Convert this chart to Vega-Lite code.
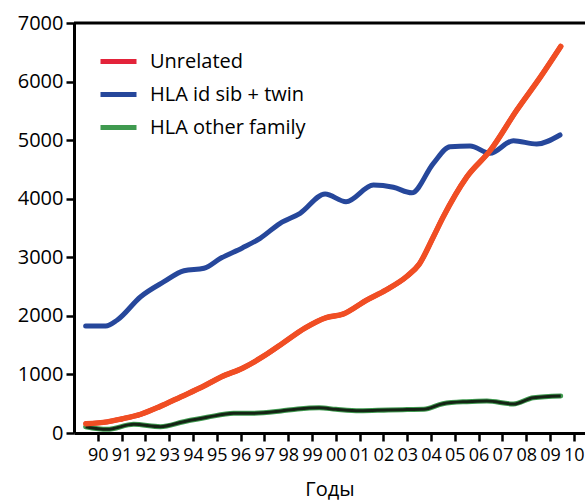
{
  "$schema": "https://vega.github.io/schema/vega-lite/v6.json",
  "width": 511,
  "height": 410,
  "autosize": {"type": "none"},
  "padding": {"left": 74, "top": 23, "right": 0, "bottom": 68},
  "config": {
    "view": {"stroke": null},
    "font": "Open Sans",
    "axis": {"domainColor": "black", "domainWidth": 3, "tickColor": "black", "tickWidth": 2.5, "tickSize": 8, "labelColor": "black", "titleColor": "black", "grid": false}
  },
  "data": {"values": [
    {"series": "Unrelated", "year": 1989.5, "value": 160},
    {"series": "Unrelated", "year": 1990.4, "value": 190},
    {"series": "Unrelated", "year": 1991.0, "value": 240},
    {"series": "Unrelated", "year": 1991.8, "value": 320},
    {"series": "Unrelated", "year": 1992.6, "value": 450},
    {"series": "Unrelated", "year": 1993.5, "value": 620},
    {"series": "Unrelated", "year": 1994.4, "value": 790},
    {"series": "Unrelated", "year": 1995.2, "value": 960},
    {"series": "Unrelated", "year": 1996.1, "value": 1110},
    {"series": "Unrelated", "year": 1997.0, "value": 1320},
    {"series": "Unrelated", "year": 1997.8, "value": 1540},
    {"series": "Unrelated", "year": 1998.7, "value": 1790},
    {"series": "Unrelated", "year": 1999.6, "value": 1970},
    {"series": "Unrelated", "year": 2000.3, "value": 2030},
    {"series": "Unrelated", "year": 2001.3, "value": 2270},
    {"series": "Unrelated", "year": 2002.1, "value": 2440},
    {"series": "Unrelated", "year": 2003.0, "value": 2680},
    {"series": "Unrelated", "year": 2003.5, "value": 2880},
    {"series": "Unrelated", "year": 2004.1, "value": 3350},
    {"series": "Unrelated", "year": 2004.5, "value": 3680},
    {"series": "Unrelated", "year": 2005.5, "value": 4370},
    {"series": "Unrelated", "year": 2006.5, "value": 4830},
    {"series": "Unrelated", "year": 2007.6, "value": 5510},
    {"series": "Unrelated", "year": 2008.6, "value": 6080},
    {"series": "Unrelated", "year": 2009.45, "value": 6600},
    {"series": "HLA id sib + twin", "year": 1989.49, "value": 1827},
    {"series": "HLA id sib + twin", "year": 1990.33, "value": 1827},
    {"series": "HLA id sib + twin", "year": 1990.82, "value": 1930},
    {"series": "HLA id sib + twin", "year": 1991.8, "value": 2327},
    {"series": "HLA id sib + twin", "year": 1992.78, "value": 2583},
    {"series": "HLA id sib + twin", "year": 1993.62, "value": 2771},
    {"series": "HLA id sib + twin", "year": 1994.46, "value": 2812},
    {"series": "HLA id sib + twin", "year": 1995.16, "value": 2983},
    {"series": "HLA id sib + twin", "year": 1996.07, "value": 3160},
    {"series": "HLA id sib + twin", "year": 1996.82, "value": 3324},
    {"series": "HLA id sib + twin", "year": 1997.66, "value": 3580},
    {"series": "HLA id sib + twin", "year": 1998.5, "value": 3751},
    {"series": "HLA id sib + twin", "year": 1999.55, "value": 4080},
    {"series": "HLA id sib + twin", "year": 2000.43, "value": 3949},
    {"series": "HLA id sib + twin", "year": 2001.58, "value": 4234},
    {"series": "HLA id sib + twin", "year": 2002.42, "value": 4195},
    {"series": "HLA id sib + twin", "year": 2003.19, "value": 4100},
    {"series": "HLA id sib + twin", "year": 2004.1, "value": 4605},
    {"series": "HLA id sib + twin", "year": 2004.8, "value": 4889},
    {"series": "HLA id sib + twin", "year": 2005.64, "value": 4900},
    {"series": "HLA id sib + twin", "year": 2006.48, "value": 4776},
    {"series": "HLA id sib + twin", "year": 2007.46, "value": 4991},
    {"series": "HLA id sib + twin", "year": 2008.44, "value": 4934},
    {"series": "HLA id sib + twin", "year": 2009.42, "value": 5088},
    {"series": "HLA other family", "year": 1989.49, "value": 108},
    {"series": "HLA other family", "year": 1990.39, "value": 63},
    {"series": "HLA other family", "year": 1991.51, "value": 148},
    {"series": "HLA other family", "year": 1992.63, "value": 108},
    {"series": "HLA other family", "year": 1993.61, "value": 193},
    {"series": "HLA other family", "year": 1994.59, "value": 268},
    {"series": "HLA other family", "year": 1995.71, "value": 336},
    {"series": "HLA other family", "year": 1996.52, "value": 336},
    {"series": "HLA other family", "year": 1997.7, "value": 375},
    {"series": "HLA other family", "year": 1998.4, "value": 410},
    {"series": "HLA other family", "year": 1999.3, "value": 430},
    {"series": "HLA other family", "year": 2000.0, "value": 405},
    {"series": "HLA other family", "year": 2001.0, "value": 380},
    {"series": "HLA other family", "year": 2002.2, "value": 393},
    {"series": "HLA other family", "year": 2003.0, "value": 400},
    {"series": "HLA other family", "year": 2003.7, "value": 405},
    {"series": "HLA other family", "year": 2004.5, "value": 500},
    {"series": "HLA other family", "year": 2005.5, "value": 535},
    {"series": "HLA other family", "year": 2006.35, "value": 546},
    {"series": "HLA other family", "year": 2007.46, "value": 495},
    {"series": "HLA other family", "year": 2008.3, "value": 603},
    {"series": "HLA other family", "year": 2009.45, "value": 632}
  ]},
  "encoding": {
    "x": {"field": "year", "type": "quantitative", "scale": {"domain": [1989, 2010.47], "nice": false, "zero": false},
      "axis": {"values": [1990,1991,1992,1993,1994,1995,1996,1997,1998,1999,2000,2001,2002,2003,2004,2005,2006,2007,2008,2009,2010],
        "labelExpr": "substring(toString(datum.value), 2)", "labelFontSize": 18, "labelPadding": 5, "labelFlush": false, "labelOverlap": false,
        "title": "Годы", "titleFontSize": 20, "titleFontWeight": "normal", "titlePadding": 15}},
    "y": {"field": "value", "type": "quantitative", "scale": {"domain": [0, 7000], "nice": false},
      "axis": {"values": [0,1000,2000,3000,4000,5000,6000,7000], "format": "d", "labelFontSize": 20, "labelPadding": 3, "title": null}}
  },
  "layer": [
    {
      "data": {"values": [{"value": 7000}]},
      "mark": {"type": "rule", "color": "black", "strokeWidth": 3},
      "encoding": {"x": null}
    },
    {
      "mark": {"type": "line", "interpolate": "monotone", "strokeWidth": 5, "strokeCap": "round"},
      "encoding": {
        "color": {"field": "series", "type": "nominal",
          "scale": {"domain": ["Unrelated", "HLA id sib + twin", "HLA other family"], "range": ["#e3233a", "#26479b", "#3f9a4f"]},
          "legend": {"orient": "none", "legendX": 24, "legendY": 18, "title": null, "symbolType": "stroke", "symbolSize": 1296, "symbolStrokeWidth": 5, "labelFontSize": 20, "labelOffset": 11, "rowPadding": 2, "padding": 0, "labelColor": "black"}}
      }
    },
    {
      "transform": [{"filter": "datum.series === 'HLA other family'"}],
      "mark": {"type": "line", "interpolate": "monotone", "strokeWidth": 3, "color": "#142414"},
      "encoding": {}
    },
    {
      "transform": [{"filter": "datum.series === 'Unrelated'"}],
      "mark": {"type": "line", "interpolate": "monotone", "strokeWidth": 5.5, "strokeCap": "round", "color": "#f04e23"},
      "encoding": {}
    }
  ]
}
